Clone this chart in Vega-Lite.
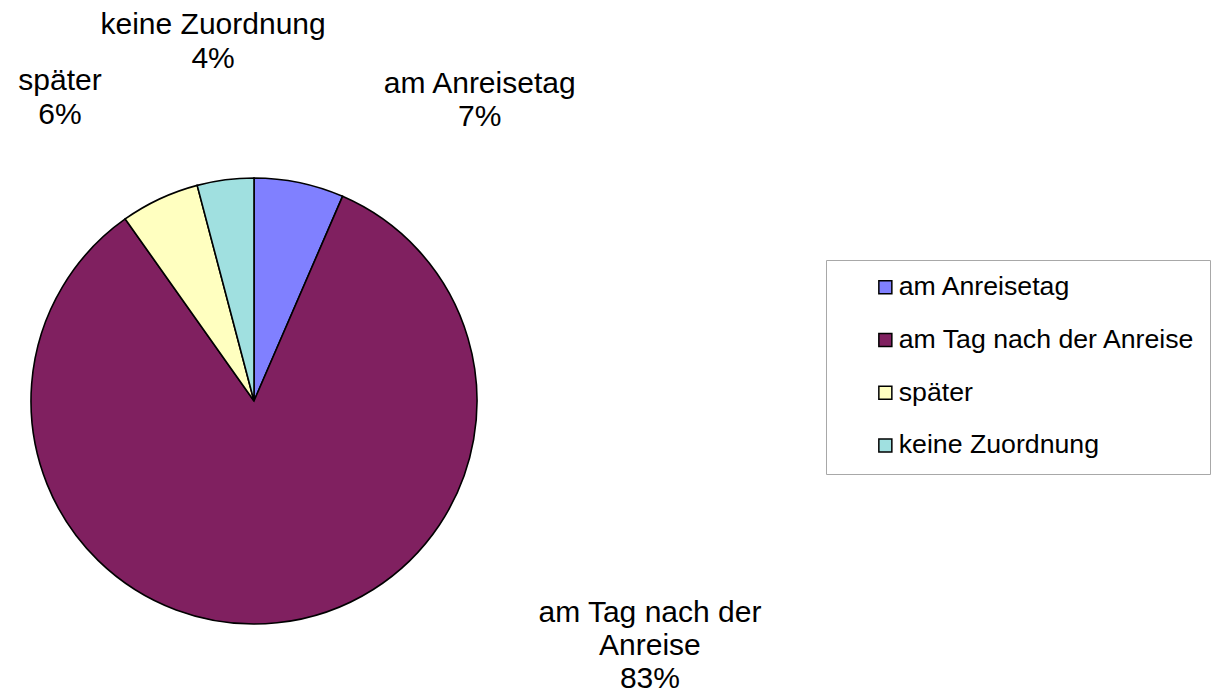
{
  "$schema": "https://vega.github.io/schema/vega-lite/v6.json",
  "autosize": {"type": "none"},
  "width": 508,
  "height": 588,
  "padding": {"left": 0, "top": 107, "right": 713, "bottom": 0},
  "background": "white",
  "data": {
    "values": [
      {"cat": "am Anreisetag", "value": 6.5, "order": 1, "label": "am Anreisetag\n7%"},
      {"cat": "am Tag nach der Anreise", "value": 83.7, "order": 2, "label": "am Tag nach der\nAnreise\n83%"},
      {"cat": "später", "value": 5.7, "order": 3, "label": "später\n6%"},
      {"cat": "keine Zuordnung", "value": 4.1, "order": 4, "label": "keine Zuordnung\n4%"}
    ]
  },
  "encoding": {
    "theta": {"field": "value", "type": "quantitative", "stack": true},
    "order": {"field": "order", "type": "quantitative"}
  },
  "layer": [
    {
      "mark": {"type": "arc", "outerRadius": 223, "stroke": "black", "strokeWidth": 1.6},
      "encoding": {
        "color": {
          "field": "cat",
          "type": "nominal",
          "sort": ["am Anreisetag", "am Tag nach der Anreise", "später", "keine Zuordnung"],
          "scale": {
            "domain": ["am Anreisetag", "am Tag nach der Anreise", "später", "keine Zuordnung"],
            "range": ["#8080FF", "#802060", "#FFFFC0", "#A0E0E0"]
          },
          "legend": {
            "title": null,
            "orient": "none",
            "legendX": 826,
            "legendY": 153,
            "padding": 14,
            "symbolOffset": 32,
            "symbolType": "square",
            "symbolSize": 169,
            "symbolStrokeColor": "black",
            "symbolStrokeWidth": 1.5,
            "labelFont": "Liberation Sans",
            "labelFontSize": 26.7,
            "labelColor": "black",
            "labelOffset": 0,
            "labelLimit": 600,
            "rowPadding": 24.7,
            "strokeColor": "#a8a8a8",
            "fillColor": "white"
          }
        }
      }
    },
    {
      "mark": {"type": "text", "radius": 260, "dx": 173, "dy": -53, "font": "Liberation Sans", "fontSize": 30, "lineBreak": "\n", "lineHeight": 33, "align": "center", "baseline": "alphabetic", "color": "black"},
      "encoding": {"text": {"condition": {"test": "datum.order === 1", "field": "label"}, "value": ""}}
    },
    {
      "mark": {"type": "text", "radius": 260, "dx": 369, "dy": -38, "font": "Liberation Sans", "fontSize": 30, "lineBreak": "\n", "lineHeight": 33, "align": "center", "baseline": "alphabetic", "color": "black"},
      "encoding": {"text": {"condition": {"test": "datum.order === 2", "field": "label"}, "value": ""}}
    },
    {
      "mark": {"type": "text", "radius": 260, "dx": -84, "dy": -75, "font": "Liberation Sans", "fontSize": 30, "lineBreak": "\n", "lineHeight": 34, "align": "center", "baseline": "alphabetic", "color": "black"},
      "encoding": {"text": {"condition": {"test": "datum.order === 3", "field": "label"}, "value": ""}}
    },
    {
      "mark": {"type": "text", "radius": 260, "dx": -7.5, "dy": -109, "font": "Liberation Sans", "fontSize": 30, "lineBreak": "\n", "lineHeight": 34, "align": "center", "baseline": "alphabetic", "color": "black"},
      "encoding": {"text": {"condition": {"test": "datum.order === 4", "field": "label"}, "value": ""}}
    }
  ],
  "config": {"view": {"stroke": null}}
}
